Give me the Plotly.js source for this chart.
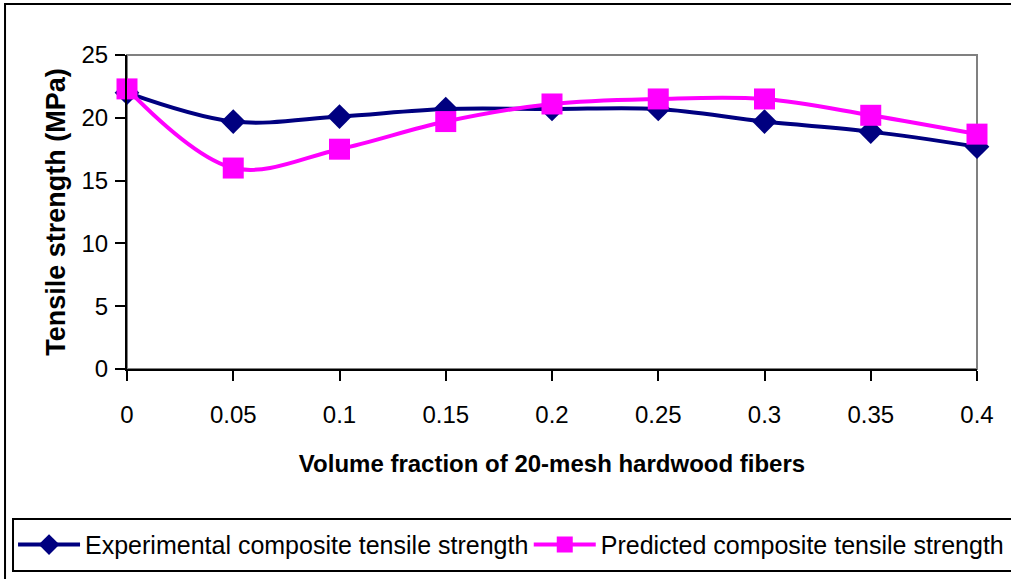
<!DOCTYPE html>
<html>
<head>
<meta charset="utf-8">
<script src="https://cdn.plot.ly/plotly-3.0.1.min.js"></script>
<style>
html,body{margin:0;padding:0;background:#fff;}
#chart{width:1011px;height:579px;}
</style>
</head>
<body>
<div id="chart"></div>
<script>
var volumeFraction = [0, 0.05, 0.1, 0.15, 0.2, 0.25, 0.3, 0.35, 0.4];
var experimental = [22.0, 19.7, 20.1, 20.7, 20.7, 20.7, 19.7, 18.9, 17.7];
var predicted = [22.3, 16.0, 17.5, 19.7, 21.1, 21.5, 21.5, 20.2, 18.7];
var xTicks = [0, 0.05, 0.1, 0.15, 0.2, 0.25, 0.3, 0.35, 0.4];
var xTickText = ['0', '0.05', '0.1', '0.15', '0.2', '0.25', '0.3', '0.35', '0.4'];
var yTicks = [0, 5, 10, 15, 20, 25];
var seriesNames = ['Experimental composite tensile strength', 'Predicted composite tensile strength'];

var FONT = 'Liberation Sans, Arial, sans-serif';

var traces = [
  {
    x: volumeFraction, y: experimental, name: seriesNames[0], legend: 'legend',
    type: 'scatter', mode: 'lines+markers', cliponaxis: false,
    line: {color: '#000080', width: 4, shape: 'spline', smoothing: 1},
    marker: {symbol: 'diamond', size: 19, color: '#000080'}
  },
  {
    x: volumeFraction, y: predicted, name: seriesNames[1], legend: 'legend2',
    type: 'scatter', mode: 'lines+markers', cliponaxis: false,
    line: {color: '#FF00FF', width: 4, shape: 'spline', smoothing: 1},
    marker: {symbol: 'square', size: 21, color: '#FF00FF'}
  }
];

var legendCommon = {
  orientation: 'h', xref: 'container', yref: 'container',
  xanchor: 'left', y: 0.059, yanchor: 'middle',
  bgcolor: 'rgba(0,0,0,0)', borderwidth: 0,
  font: {family: FONT, size: 25, color: '#000'},
  itemwidth: 62
};

var layout = {
  width: 1011, height: 579,
  margin: {l: 127, r: 34, t: 55, b: 210},
  paper_bgcolor: '#fff', plot_bgcolor: '#fff',
  font: {family: FONT, size: 24, color: '#000'},
  showlegend: true,
  xaxis: {
    range: [0, 0.4], tickvals: xTicks, ticktext: xTickText,
    showgrid: false, zeroline: false,
    showline: true, linecolor: '#000', linewidth: 2,
    ticks: 'outside', ticklen: 10, tickwidth: 2, tickcolor: '#000',
    ticklabelstandoff: 13,
    tickfont: {family: FONT, size: 24, color: '#000'},
    title: {text: '<b>Volume fraction of 20-mesh hardwood fibers</b>', font: {family: FONT, size: 24, color: '#000'}, standoff: 28}
  },
  yaxis: {
    range: [0, 25], tickvals: yTicks,
    showgrid: false, zeroline: false,
    showline: true, linecolor: '#000', linewidth: 2,
    ticks: 'outside', ticklen: 10, tickwidth: 2, tickcolor: '#000',
    ticklabelstandoff: 2,
    tickfont: {family: FONT, size: 24, color: '#000'},
    title: {text: '<b>Tensile strength (MPa)</b>', font: {family: FONT, size: 27, color: '#000'}, standoff: 8}
  },
  legend: Object.assign({}, legendCommon, {x: 0.0129}),
  legend2: Object.assign({}, legendCommon, {x: 0.523}),
  shapes: [
    {type: 'rect', xref: 'paper', yref: 'paper', x0: 0, x1: 1, y0: 0, y1: 1,
     line: {color: '#808080', width: 2}, layer: 'below'},
    {type: 'rect', xref: 'paper', yref: 'paper', x0: -0.1341, x1: 1.0447, y0: -0.6433, y1: -0.4777,
     line: {color: '#000', width: 2}},
    {type: 'rect', xref: 'paper', yref: 'paper', x0: -0.1435, x1: 1.06, y0: -0.70, y1: 1.1624,
     line: {color: '#000', width: 2}}
  ]
};

Plotly.newPlot('chart', traces, layout, {displayModeBar: false, staticPlot: true});
</script>
</body>
</html>
